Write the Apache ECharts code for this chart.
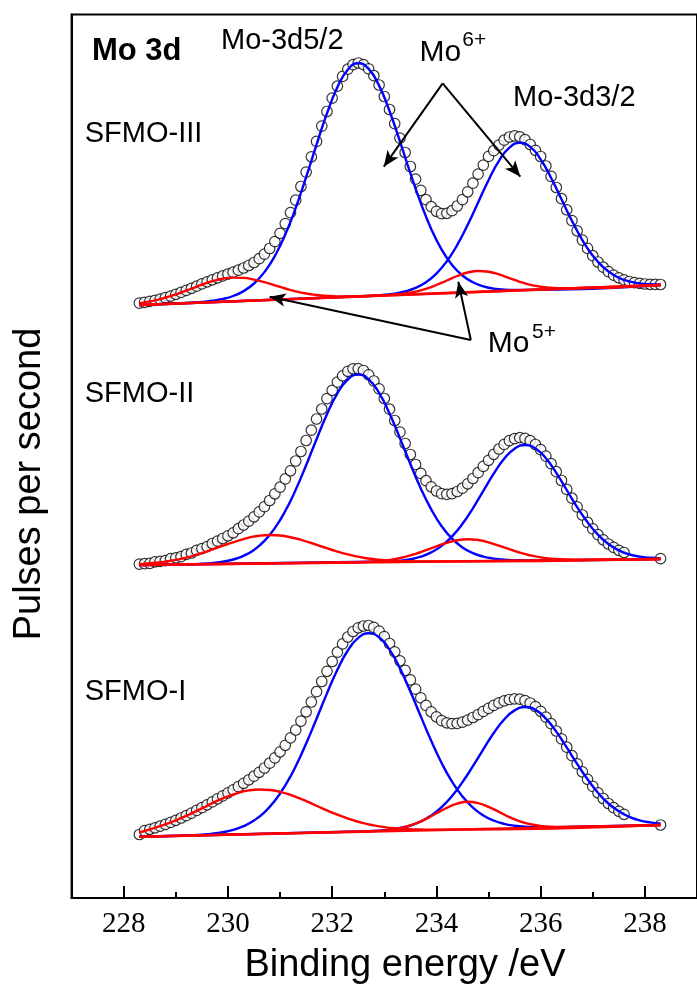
<!DOCTYPE html>
<html>
<head>
<meta charset="utf-8">
<script src="https://cdn.jsdelivr.net/npm/echarts@6/dist/echarts.min.js"></script>
<style>
  html, body { margin: 0; padding: 0; background: #fff; }
  #chart { width: 697px; height: 989px; }
</style>
</head>
<body>
<div id="chart"></div>
<script>
// ---------- x grid of the measured points (binding energy, eV) ----------
const energy = [
  228.3,228.4,228.5,228.6,228.7,228.8,228.9,229.0,229.1,229.2,
  229.3,229.4,229.5,229.6,229.7,229.8,229.9,230.0,230.1,230.2,
  230.3,230.4,230.5,230.6,230.7,230.8,230.9,231.0,231.1,231.2,
  231.3,231.4,231.5,231.6,231.7,231.8,231.9,232.0,232.1,232.2,
  232.3,232.4,232.5,232.6,232.7,232.8,232.9,233.0,233.1,233.2,
  233.3,233.4,233.5,233.6,233.7,233.8,233.9,234.0,234.1,234.2,
  234.3,234.4,234.5,234.6,234.7,234.8,234.9,235.0,235.1,235.2,
  235.3,235.4,235.5,235.6,235.7,235.8,235.9,236.0,236.1,236.2,
  236.3,236.4,236.5,236.6,236.7,236.8,236.9,237.0,237.1,237.2,
  237.3,237.4,237.5,237.6,237.7,237.8,237.9,238.0,238.1,238.2,
  238.3
];

// ---------- measured spectra (open circles), stacked, arbitrary units ----------
const circlesIII = [
  594.9,595.7,596.6,597.7,598.9,600.4,601.9,603.7,605.6,607.6,
  609.7,611.8,614.1,616.2,618.2,620.2,622.1,623.9,625.8,627.8,
  630.0,632.5,635.5,639.3,643.9,649.5,656.4,664.7,674.4,685.4,
  697.8,711.5,725.9,741.2,756.6,771.9,786.5,799.9,811.8,821.6,
  828.8,833.4,835.0,833.4,829.1,822.3,813.0,801.5,788.5,774.4,
  759.9,745.5,731.5,718.8,707.6,698.3,691.3,686.7,684.4,684.7,
  687.3,692.0,698.4,706.2,714.8,723.9,732.9,741.6,747.3,752.9,
  757.8,761.0,762.1,761.2,758.3,753.5,747.7,741.5,732.0,721.6,
  710.5,699.3,688.2,677.4,667.2,657.9,649.6,642.3,636.0,630.8,
  626.4,622.9,620.2,618.1,616.5,615.4,614.6,614.0,613.7,613.6,
  613.5
];
const circlesII = [
  333.9,334.3,334.6,336.2,336.7,337.4,339.3,340.2,341.3,343.6,
  345.0,347.6,349.4,351.4,354.5,356.9,359.5,362.2,365.2,369.3,
  373.0,376.9,381.2,386.1,391.4,397.5,404.2,410.8,419.1,427.2,
  437.0,446.5,457.5,467.8,479.0,489.0,499.4,507.7,515.9,522.2,
  526.7,529.2,529.4,527.5,523.2,517.0,509.1,499.5,488.8,477.5,
  465.9,454.5,443.5,433.5,424.6,417.3,411.2,407.0,404.4,403.6,
  404.4,406.5,409.8,414.2,419.5,425.3,431.6,437.7,443.7,449.0,
  453.6,457.4,459.4,460.3,459.6,457.3,453.5,448.4,441.9,434.4,
  426.3,417.5,408.6,399.8,391.1,383.0,375.7,369.1,363.3,358.2,
  354.0,350.6,347.7,345.5,null,null,null,null,null,null,
  339.4
];
const circlesI = [
  63.5,67.4,68.7,70.2,71.8,73.6,75.6,77.7,80.0,82.4,
  84.9,87.6,90.4,93.2,96.1,99.2,102.1,105.2,108.2,111.4,
  114.7,118.2,121.8,125.7,130.0,134.8,140.1,146.2,152.7,160.1,
  168.0,176.9,186.2,196.0,206.3,216.5,226.7,236.5,245.8,254.1,
  261.0,266.5,270.2,272.0,272.5,270.6,266.9,261.4,254.5,246.2,
  237.2,227.6,218.1,208.9,200.2,192.6,186.2,181.2,177.4,175.2,
  174.4,174.6,175.9,177.9,180.5,183.4,186.6,189.6,192.6,195.1,
  197.1,198.5,199.1,198.8,197.4,195.0,191.4,186.7,180.9,174.3,
  167.0,159.1,150.8,142.3,134.1,126.2,118.7,111.6,105.2,99.5,
  94.5,90.3,86.7,83.7,null,null,null,null,null,null,
  73.0
];

// ---------- fitted components [energy, value] ----------
// SFMO-III
const fitIII_Mo6_52 = [[228.3,593],[229.3,595.3],[229.5,596.1],[229.7,597.2],[229.9,599.0],[230.1,602.0],[230.3,606.9],[230.5,614.5],[230.7,625.9],[230.9,642.0],[231.1,663.5],[231.3,690.1],[231.5,720.8],[231.7,753.4],[231.9,784.6],[232.1,810.8],[232.3,828.3],[232.5,834.7],[232.7,829.1],[232.9,812.4],[233.1,787.0],[233.3,756.6],[233.5,724.8],[233.7,694.9],[233.9,669.1],[234.1,648.4],[234.3,633.1],[234.5,622.5],[234.7,615.7],[234.9,611.6],[235.1,609.4],[235.3,608.4],[235.5,608.1],[235.7,608.1],[238.3,613]];
const fitIII_Mo6_32 = [[228.3,593],[232.8,602.3],[233.0,603.2],[233.2,604.4],[233.4,606.6],[233.6,610.1],[233.8,615.7],[234.0,624.4],[234.2,636.7],[234.4,653.1],[234.6,673.2],[234.8,695.5],[235.0,717.8],[235.2,737.1],[235.4,750.3],[235.6,755.2],[235.8,751.1],[236.0,738.7],[236.2,720.2],[236.4,698.7],[236.6,677.2],[236.8,657.9],[237.0,642.3],[237.2,630.8],[237.4,622.9],[237.6,618.1],[237.8,615.4],[238.0,614.0],[238.2,613.6],[238.3,613.5]];
const fitIII_Mo5_52 = [[228.3,594.9],[228.5,596.6],[228.7,598.9],[228.9,601.9],[229.1,605.5],[229.3,609.4],[229.5,613.4],[229.7,616.8],[229.9,619.3],[230.1,620.4],[230.3,620.1],[230.5,618.4],[230.7,615.8],[230.9,612.6],[231.1,609.5],[231.3,606.7],[231.5,604.5],[231.7,603.0],[231.9,602.1],[232.1,601.6],[232.3,601.5],[232.5,601.7],[238.3,613]];
const fitIII_Mo5_32 = [[228.3,593],[233.0,602.6],[233.2,603.4],[233.4,604.6],[233.6,606.4],[233.8,609.2],[234.0,613.0],[234.2,617.5],[234.4,622.0],[234.6,625.5],[234.8,627.0],[235.0,626.3],[235.2,623.6],[235.4,619.9],[235.6,616.2],[235.8,613.2],[236.0,611.2],[236.2,610.2],[236.4,609.8],[236.6,609.8],[238.3,613]];
const bgIII = [[228.3,593],[238.3,613]];
// SFMO-II
const fitII_Mo6_52 = [[228.3,333],[229.3,333.8],[229.5,334.2],[229.7,334.9],[229.9,336.3],[230.1,338.5],[230.3,342.2],[230.5,348.1],[230.7,357.1],[230.9,369.9],[231.1,387.0],[231.3,408.2],[231.5,432.8],[231.7,458.8],[231.9,483.8],[232.1,504.7],[232.3,518.5],[232.5,523.5],[232.7,518.7],[232.9,505.2],[233.1,484.5],[233.3,459.8],[233.5,434.0],[233.7,409.6],[233.9,388.7],[234.1,371.8],[234.3,359.3],[234.5,350.5],[234.7,344.8],[234.9,341.4],[235.1,339.4],[235.3,338.3],[235.5,337.8],[235.7,337.6],[238.3,339]];
const fitII_Mo6_32 = [[228.3,333],[233.1,336.5],[233.3,337.3],[233.5,338.7],[233.7,341.3],[233.9,345.6],[234.1,352.1],[234.3,361.6],[234.5,374.2],[234.7,389.7],[234.9,407.1],[235.1,424.4],[235.3,439.2],[235.5,449.3],[235.7,453.0],[235.9,449.6],[236.1,439.7],[236.3,425.1],[236.5,408.0],[236.7,390.9],[236.9,375.7],[237.1,363.3],[237.3,354.0],[237.5,347.7],[237.7,343.7],[237.9,341.4],[238.1,340.2],[238.3,339.6]];
const fitII_Mo5_52 = [[228.3,333.9],[228.6,335.2],[228.8,336.4],[229.0,338.1],[229.2,340.4],[229.4,343.3],[229.6,346.6],[229.8,350.3],[230.0,354.0],[230.2,357.4],[230.4,360.4],[230.6,362.3],[230.8,363.0],[231.0,362.5],[231.2,360.8],[231.4,358.2],[231.6,355.0],[231.8,351.5],[232.0,348.0],[232.2,344.9],[232.4,342.4],[232.6,340.3],[232.8,338.8],[233.0,337.8],[233.2,337.1],[233.4,336.8],[233.6,336.6],[233.8,336.5],[238.3,339]];
const fitII_Mo5_32 = [[228.3,333],[232.4,335.7],[232.6,336.0],[232.8,336.5],[233.0,337.4],[233.2,338.9],[233.4,341.2],[233.6,344.1],[233.8,347.8],[234.0,351.6],[234.2,355.2],[234.4,357.8],[234.6,358.8],[234.8,358.0],[235.0,355.7],[235.2,352.3],[235.4,348.8],[235.6,345.3],[235.8,342.6],[236.0,340.6],[236.2,339.3],[236.4,338.7],[236.6,338.4],[236.8,338.3],[238.3,339]];
const bgII = [[228.3,333],[238.3,339]];
// SFMO-I
const fitI_Mo6_52 = [[228.3,61.3],[229.1,62.4],[229.3,62.8],[229.5,63.4],[229.7,64.3],[229.9,65.8],[230.1,68.1],[230.3,71.8],[230.5,77.5],[230.7,85.7],[230.9,97.2],[231.1,112.6],[231.3,131.7],[231.5,154.4],[231.7,179.3],[231.9,204.6],[232.1,228.2],[232.3,247.5],[232.5,260.2],[232.7,264.8],[232.9,260.7],[233.1,248.4],[233.3,229.6],[233.5,206.5],[233.7,181.6],[233.9,157.2],[234.1,135.0],[234.3,116.3],[234.5,101.5],[234.7,90.4],[234.9,82.6],[235.1,77.5],[235.3,74.2],[235.5,72.3],[235.7,71.3],[235.9,70.9],[236.1,70.7],[236.3,70.8],[238.3,73]];
const fitI_Mo6_32 = [[228.3,61.3],[232.7,66.8],[232.9,67.4],[233.1,68.4],[233.3,70.0],[233.5,72.5],[233.7,76.5],[233.9,82.5],[234.1,90.8],[234.3,101.9],[234.5,115.9],[234.7,131.8],[234.9,148.7],[235.1,165.0],[235.3,178.5],[235.5,187.6],[235.7,191.0],[235.9,188.1],[236.1,179.4],[236.3,166.4],[236.5,150.6],[236.7,134.1],[236.9,118.7],[237.1,105.2],[237.3,94.5],[237.5,86.7],[237.7,81.2],[237.9,77.6],[238.1,75.6],[238.3,74.5]];
const fitI_Mo5_52 = [[228.3,65.5],[228.6,70.2],[228.8,73.6],[229.0,77.6],[229.2,82.2],[229.4,87.1],[229.6,92.2],[229.8,97.3],[230.0,101.7],[230.2,105.2],[230.4,107.6],[230.6,108.5],[230.8,108.0],[231.0,106.2],[231.2,103.1],[231.4,99.1],[231.6,94.6],[231.8,89.9],[232.0,85.4],[232.2,81.4],[232.4,77.8],[232.6,74.8],[232.8,72.6],[233.0,70.9],[233.2,69.7],[233.4,69.0],[233.6,68.6],[233.8,68.4],[234.0,68.4],[234.2,68.4],[238.3,73]];
const fitI_Mo5_32 = [[228.3,61.3],[232.8,66.9],[233.0,67.6],[233.2,68.8],[233.4,71.0],[233.6,74.4],[233.8,79.0],[234.0,84.7],[234.2,90.2],[234.4,94.4],[234.6,96.2],[234.8,94.9],[235.0,91.1],[235.2,86.1],[235.4,80.9],[235.6,76.7],[235.8,73.8],[236.0,72.1],[236.2,71.3],[236.4,71.1],[238.3,73]];
const bgI = [[228.3,61.3],[238.3,73]];

// ---------- axis ticks ----------
const majorTicks = [228, 230, 232, 234, 236, 238];
const minorTicks = [229, 231, 233, 235, 237];

// ---------- annotation arrows (data coordinates: [from], [to]) ----------
const mo6Arrows = [[[234.12, 814.7], [232.99, 731.3]], [[234.12, 814.7], [235.61, 721.3]]];
const mo5Arrows = [[[234.66, 558.0], [230.80, 601.3]], [[234.66, 558.0], [234.42, 616.3]]];

// ---------- build chart ----------
const BLUE = '#0000ff', RED = '#ff0000';
function pts(xs, ys) {
  const out = [];
  for (let i = 0; i < xs.length; i++) if (ys[i] != null) out.push([xs[i], ys[i]]);
  return out;
}
function scatter(ys) {
  return { type: 'scatter', data: pts(energy, ys), symbol: 'circle', symbolSize: 10.5,
    itemStyle: { color: '#fff', borderColor: '#000', borderWidth: 1.2 }, z: 2, silent: true };
}
function fit(d, color, z) {
  return { type: 'line', data: d, showSymbol: false, smooth: true,
    lineStyle: { color: color, width: 2.4 }, z: z, silent: true };
}
const arrowData = mo6Arrows.concat(mo5Arrows).map(a => [{ coord: a[0] }, { coord: a[1] }]);

const series = [
  scatter(circlesIII), scatter(circlesII), scatter(circlesI),
  fit(fitIII_Mo6_52, BLUE, 3), fit(fitIII_Mo6_32, BLUE, 3),
  fit(fitII_Mo6_52, BLUE, 3), fit(fitII_Mo6_32, BLUE, 3),
  fit(fitI_Mo6_52, BLUE, 3), fit(fitI_Mo6_32, BLUE, 3),
  fit(fitIII_Mo5_52, RED, 4), fit(fitIII_Mo5_32, RED, 4),
  fit(fitII_Mo5_52, RED, 4), fit(fitII_Mo5_32, RED, 4),
  fit(fitI_Mo5_52, RED, 4), fit(fitI_Mo5_32, RED, 4),
  fit(bgIII, RED, 4), fit(bgII, RED, 4), fit(bgI, RED, 4)
];
series[series.length - 1].markLine = {
  silent: true, animation: false, symbol: ['none', 'arrow'], symbolSize: [10, 16],
  lineStyle: { color: '#000', width: 2, type: 'solid' }, label: { show: false },
  emphasis: { disabled: true }, data: arrowData
};

const SANS = '"Liberation Sans", Arial, sans-serif';
function txt(text, x, y, size, bold) {
  return { type: 'text', silent: true, z: 10,
    style: { text: text, x: x, y: y, fill: '#000', textVerticalAlign: 'middle',
      font: (bold ? 'bold ' : '') + size + 'px ' + SANS } };
}

const chart = echarts.init(document.getElementById('chart'), null, { renderer: 'canvas' });
chart.setOption({
  animation: false,
  backgroundColor: '#fff',
  grid: { left: 71.6, top: 14.5, width: 634.6, height: 883.5, show: true,
    borderColor: '#000', borderWidth: 2, backgroundColor: 'transparent' },
  xAxis: [{
    type: 'value', min: 227, max: 239, position: 'bottom',
    axisLine: { show: true, lineStyle: { color: '#000', width: 2 } },
    axisTick: { show: true, inside: true, length: 12, customValues: majorTicks, lineStyle: { color: '#000', width: 2 } },
    axisLabel: { show: true, customValues: majorTicks, margin: 12, color: '#000',
      fontFamily: '"Liberation Serif", "Times New Roman", serif', fontSize: 29 },
    splitLine: { show: false }
  }, {
    type: 'value', min: 227, max: 239, position: 'bottom',
    axisLine: { show: false },
    axisTick: { show: true, inside: true, length: 6, customValues: minorTicks, lineStyle: { color: '#000', width: 2 } },
    axisLabel: { show: false }, splitLine: { show: false }
  }],
  yAxis: {
    type: 'value', min: 0, max: 883.5,
    axisLine: { show: true, lineStyle: { color: '#000', width: 2 } },
    axisTick: { show: false }, axisLabel: { show: false }, splitLine: { show: false }
  },
  series: series,
  graphic: [
    txt('Mo 3d', 92, 51, 31, true),
    txt('Mo-3d5/2', 221, 40.6, 29),
    txt('Mo', 419.5, 52.9, 30),
    txt('6+', 462.3, 40.7, 21),
    txt('Mo-3d3/2', 513, 98.2, 29),
    txt('SFMO-III', 84.7, 134, 29),
    txt('SFMO-II', 84.7, 394, 29),
    txt('SFMO-I', 84.7, 692, 29),
    txt('Mo', 487.8, 343.6, 30),
    txt('5+', 532, 332.2, 21),
    { type: 'text', silent: true, z: 10, style: { text: 'Binding energy /eV', x: 405, y: 965.3,
      textAlign: 'center', textVerticalAlign: 'middle', fill: '#000', font: '38px ' + SANS } },
    { type: 'text', silent: true, z: 10, x: 30, y: 484, rotation: Math.PI / 2,
      style: { text: 'Pulses per second', x: 0, y: 0, textAlign: 'center', textVerticalAlign: 'middle',
        fill: '#000', font: '38px ' + SANS } }
  ]
});
</script>
</body>
</html>
